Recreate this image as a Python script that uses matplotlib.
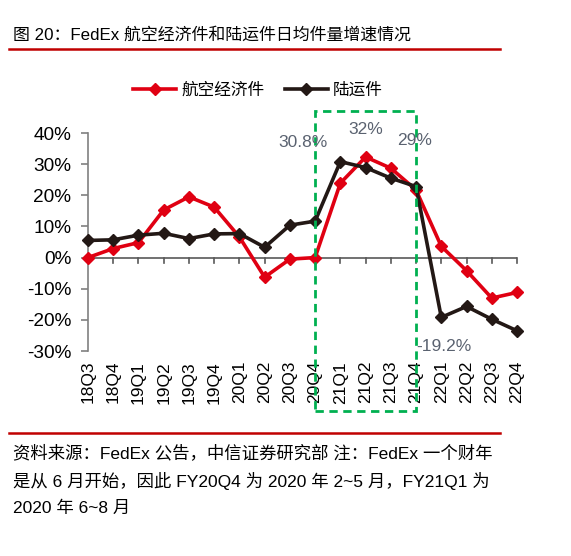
import matplotlib
matplotlib.use("Agg")
import matplotlib.pyplot as plt
from matplotlib.patches import Rectangle
from matplotlib.lines import Line2D
import numpy as np

plt.rcParams['font.family'] = ['Liberation Sans', 'Noto Sans CJK SC', 'DejaVu Sans']

categories = ['18Q3', '18Q4', '19Q1', '19Q2', '19Q3', '19Q4', '20Q1', '20Q2', '20Q3',
              '20Q4', '21Q1', '21Q2', '21Q3', '21Q4', '22Q1', '22Q2', '22Q3', '22Q4']
air = [0.0, 2.9, 4.8, 15.3, 19.5, 16.2, 6.6, -6.3, -0.5,
       0.0, 23.9, 32.3, 28.7, 21.7, 3.6, -4.2, -13.0, -11.2]
ground = [5.5, 5.7, 7.2, 7.8, 6.1, 7.6, 7.7, 3.3, 10.4,
          11.7, 30.8, 28.9, 25.5, 22.8, -19.2, -15.7, -19.8, -23.5]
series_names = ['航空经济件', '陆运件']
yticks = [-30, -20, -10, 0, 10, 20, 30, 40]
annotations = [('30.8%', 8.5, 37.1), ('32%', 11.0, 41.0), ('29%', 12.95, 37.7), ('-19.2%', 14.1, -28.7)]

RED = '#E00012'
BLACK = '#231815'

fig = plt.figure(figsize=(5.71, 5.56), dpi=100)
ax = fig.add_axes([88/571, 1-351/556, (517-88)/571, (351-133)/556])

x = np.arange(len(categories))
ax.plot(x, air, color=RED, lw=2.6, marker='D', ms=6, clip_on=False, zorder=3)
ax.plot(x, ground, color=BLACK, lw=2.6, marker='D', ms=6, clip_on=False, zorder=4)

ax.set_xlim(0, len(categories)-1)
ax.set_ylim(-30, 40)
ax.set_yticks(yticks)
ax.set_yticklabels([f'{v}%' for v in yticks], fontsize=13.7)
ax.set_xticks(x)
ax.set_xticklabels([])
for s in ['top', 'right', 'bottom']:
    ax.spines[s].set_visible(False)
ax.spines['left'].set_color('#808080')
ax.spines['left'].set_linewidth(1.2)
ax.axhline(0, color='#595959', lw=1.2, zorder=2)
ax.tick_params(axis='y', direction='out', length=5, color='#808080', width=1.2, pad=7)
ax.tick_params(axis='x', length=0)
# tick marks on zero line
for xi in x[1:]:
    ax.plot([xi, xi], [0, -1.6], color='#595959', lw=1.2, clip_on=False, zorder=2)
# category labels at bottom
for xi, c in zip(x, categories):
    ax.text(xi, -33.2, c, rotation=90, ha='center', va='top', fontsize=12.5)

# green dashed box
rect = Rectangle((9, -49.4), 4, 96.4, fill=False, ls=(0, (3, 2)), lw=2, ec='#00B050',
                 clip_on=False, zorder=5)
ax.add_patch(rect)

for txt, xi, yi in annotations:
    ax.text(xi, yi, txt, ha='center', va='center', fontsize=12.5, color='#5A6270', zorder=6)

# legend
handles = [Line2D([], [], color=RED, lw=2.6, marker='D', ms=6),
           Line2D([], [], color=BLACK, lw=2.6, marker='D', ms=6)]
fig.legend(handles, series_names, loc='center', bbox_to_anchor=(258/571, 1-90/556), ncol=2,
           frameon=False, fontsize=12, handlelength=2.6, handletextpad=0.3, columnspacing=1.2)

# title
fig.text(13/571, 1-35/556, '图 20：FedEx 航空经济件和陆运件日均件量增速情况', fontsize=12.2,
         ha='left', va='center')
fig.add_artist(Line2D([9/571, 500/571], [1-49/556, 1-49/556], color='#C00000', lw=1.8))
fig.add_artist(Line2D([9/571, 500/571], [1-433/556, 1-433/556], color='#C00000', lw=1.8))

footer = ['资料来源：FedEx 公告，中信证券研究部 注：FedEx 一个财年',
          '是从 6 月开始，因此 FY20Q4 为 2020 年 2~5 月，FY21Q1 为',
          '2020 年 6~8 月']
for i, line in enumerate(footer):
    fig.text(13/571, 1-(453+27.5*i)/556, line, fontsize=12.5, ha='left', va='center')

fig.savefig('out.png', dpi=100)
